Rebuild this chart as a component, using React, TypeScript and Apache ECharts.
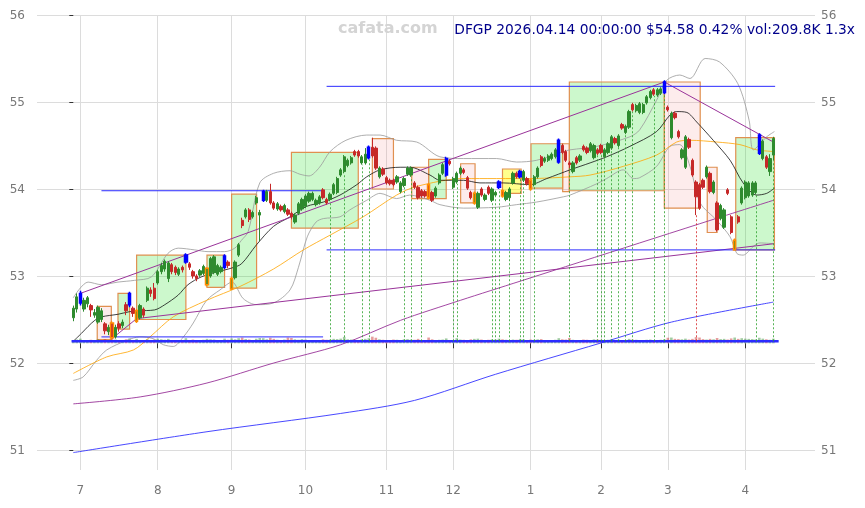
import React, { useEffect, useRef } from 'react';
import * as echarts from 'echarts';

const monthTicks = [2, 24, 45, 66, 89, 108, 130, 150, 169, 191];
const monthLabels = ['7', '8', '9', '10', '11', '12', '1', '2', '3', '4'];
const priceTicks = [51, 52, 53, 54, 55, 56];

// [open, close, low, high] per trading day
const candles: number[][] = [
  [52.52, 52.63, 52.48, 52.66], [52.62, 52.76, 52.58, 52.8], [52.69, 52.8, 52.66, 52.83], [52.62, 52.72, 52.59, 52.75], [52.68, 52.75, 52.64, 52.77],
  [52.66, 52.61, 52.53, 52.68], [52.55, 52.58, 52.52, 52.62], [52.47, 52.64, 52.45, 52.66], [52.5, 52.6, 52.47, 52.63], [52.45, 52.37, 52.33, 52.47],
  [52.36, 52.41, 52.32, 52.44], [52.46, 52.29, 52.27, 52.48], [52.3, 52.41, 52.28, 52.44], [52.45, 52.4, 52.36, 52.48], [52.43, 52.47, 52.4, 52.5],
  [52.67, 52.6, 52.55, 52.7], [52.67, 52.8, 52.64, 52.82], [52.63, 52.57, 52.53, 52.65], [52.48, 52.6, 52.46, 52.62], [52.52, 52.66, 52.5, 52.68],
  [52.62, 52.55, 52.52, 52.64], [52.72, 52.86, 52.7, 52.88], [52.84, 52.8, 52.76, 52.87], [52.86, 52.74, 52.72, 52.92], [52.92, 53.05, 52.9, 53.07],
  [53.05, 53.12, 53.02, 53.15], [53.08, 53.17, 53.05, 53.19], [52.97, 53.15, 52.93, 53.17], [53.13, 53.05, 53.02, 53.15], [53.1, 53.04, 53.01, 53.12],
  [53.02, 53.08, 53.0, 53.1], [53.1, 53.07, 53.04, 53.12], [53.16, 53.24, 53.14, 53.26], [53.14, 53.1, 53.07, 53.16], [53.05, 53.0, 52.97, 53.07],
  [53.0, 52.97, 52.94, 53.02], [53.01, 53.06, 52.99, 53.08], [53.03, 53.11, 53.01, 53.13], [52.9, 53.09, 52.88, 53.1], [53.0, 53.2, 52.98, 53.22],
  [53.04, 53.22, 53.02, 53.24], [53.02, 53.12, 53.0, 53.14], [53.05, 53.1, 53.03, 53.12], [53.1, 53.23, 53.08, 53.25], [53.16, 53.12, 53.09, 53.18],
  [52.85, 52.97, 52.84, 52.99], [52.98, 53.16, 52.96, 53.18], [53.24, 53.36, 53.22, 53.38], [53.64, 53.58, 53.55, 53.67], [53.68, 53.76, 53.66, 53.78],
  [53.76, 53.65, 53.62, 53.78], [53.68, 53.73, 53.66, 53.75], [53.84, 53.9, 53.82, 53.92], [53.7, 53.73, 53.4, 53.76], [53.87, 53.97, 53.85, 53.99],
  [53.87, 53.97, 53.85, 53.99], [53.97, 53.84, 53.82, 54.06], [53.84, 53.78, 53.76, 53.86], [53.77, 53.83, 53.75, 53.85], [53.8, 53.76, 53.74, 53.82],
  [53.74, 53.81, 53.72, 53.83], [53.76, 53.71, 53.69, 53.78], [53.72, 53.68, 53.65, 53.74], [53.62, 53.7, 53.6, 53.72], [53.72, 53.83, 53.7, 53.85],
  [53.77, 53.88, 53.75, 53.9], [53.8, 53.92, 53.78, 53.94], [53.86, 53.95, 53.84, 53.97], [53.88, 53.95, 53.86, 53.97], [53.82, 53.87, 53.8, 53.89],
  [53.84, 53.91, 53.82, 53.93], [53.99, 53.9, 53.88, 54.01], [53.88, 53.84, 53.82, 53.9], [53.88, 53.94, 53.86, 53.96], [53.95, 54.05, 53.93, 54.07],
  [53.96, 54.12, 53.94, 54.14], [54.16, 54.22, 54.14, 54.24], [54.2, 54.37, 54.18, 54.39], [54.27, 54.33, 54.25, 54.35], [54.3, 54.36, 54.28, 54.38],
  [54.43, 54.39, 54.37, 54.45], [54.43, 54.38, 54.36, 54.45], [54.3, 54.37, 54.28, 54.39], [54.3, 54.4, 54.28, 54.47], [54.36, 54.48, 54.34, 54.5],
  [54.48, 54.38, 54.36, 54.59], [54.47, 54.24, 54.22, 54.49], [54.14, 54.24, 54.12, 54.26], [54.23, 54.17, 54.15, 54.25], [54.13, 54.07, 54.05, 54.15],
  [54.1, 54.06, 54.04, 54.12], [54.1, 54.05, 54.03, 54.12], [54.08, 54.14, 54.06, 54.16], [53.97, 54.07, 53.95, 54.09], [54.04, 54.12, 54.02, 54.14],
  [54.17, 54.24, 54.15, 54.26], [54.16, 54.24, 54.14, 54.26], [54.07, 54.02, 54.0, 54.09], [54.02, 53.9, 53.88, 54.04], [53.98, 53.92, 53.9, 54.0],
  [53.97, 53.92, 53.9, 53.99], [54.05, 53.9, 53.88, 54.07], [53.96, 53.87, 53.85, 53.98], [53.92, 54.01, 53.9, 54.03], [54.07, 54.16, 54.05, 54.18],
  [54.18, 54.28, 54.16, 54.3], [54.16, 54.35, 54.14, 54.37], [54.32, 54.29, 54.27, 54.34], [54.02, 54.12, 54.0, 54.14], [54.08, 54.18, 54.06, 54.2],
  [54.18, 54.24, 54.16, 54.26], [54.22, 54.19, 54.17, 54.24], [54.13, 54.01, 53.99, 54.15], [53.96, 53.9, 53.88, 53.98], [53.84, 53.95, 53.82, 53.97],
  [53.79, 53.95, 53.77, 53.97], [54.0, 53.93, 53.91, 54.02], [53.88, 53.93, 53.86, 53.95], [54.02, 53.95, 53.93, 54.04], [53.87, 54.0, 53.85, 54.02],
  [53.93, 53.96, 53.91, 53.98], [54.02, 54.08, 54.0, 54.1], [53.98, 53.92, 53.9, 54.0], [53.88, 53.96, 53.86, 53.98], [53.9, 54.0, 53.86, 54.02],
  [54.07, 54.18, 54.05, 54.2], [54.18, 54.14, 54.12, 54.2], [54.14, 54.2, 54.12, 54.22], [54.1, 54.2, 54.08, 54.22], [54.12, 54.06, 54.04, 54.14],
  [54.1, 54.0, 53.98, 54.12], [54.05, 54.14, 54.03, 54.16], [54.14, 54.24, 54.12, 54.26], [54.37, 54.27, 54.25, 54.39], [54.32, 54.35, 54.3, 54.37],
  [54.33, 54.38, 54.31, 54.4], [54.35, 54.4, 54.33, 54.42], [54.37, 54.45, 54.35, 54.47], [54.31, 54.56, 54.29, 54.58], [54.5, 54.42, 54.4, 54.52],
  [54.43, 54.33, 54.31, 54.45], [54.3, 54.28, 54.24, 54.32], [54.2, 54.3, 54.18, 54.32], [54.36, 54.3, 54.28, 54.38], [54.33, 54.38, 54.31, 54.4],
  [54.49, 54.45, 54.43, 54.51], [54.47, 54.42, 54.4, 54.49], [54.44, 54.52, 54.42, 54.54], [54.36, 54.5, 54.34, 54.52], [54.45, 54.41, 54.39, 54.47],
  [54.5, 54.42, 54.4, 54.52], [54.37, 54.45, 54.35, 54.47], [54.42, 54.52, 54.4, 54.54], [54.47, 54.6, 54.45, 54.62], [54.58, 54.53, 54.51, 54.6],
  [54.5, 54.61, 54.48, 54.63], [54.74, 54.7, 54.68, 54.76], [54.65, 54.72, 54.63, 54.74], [54.71, 54.89, 54.69, 54.91], [54.97, 54.91, 54.89, 54.99],
  [54.9, 54.96, 54.88, 54.98], [54.88, 54.98, 54.86, 55.0], [54.88, 54.97, 54.86, 54.99], [54.99, 55.06, 54.97, 55.08], [55.05, 55.12, 55.03, 55.14],
  [55.14, 55.09, 55.07, 55.16], [55.08, 55.14, 55.06, 55.16], [55.1, 55.15, 55.08, 55.17], [55.11, 55.23, 55.09, 55.25], [54.94, 54.91, 54.89, 54.96],
  [54.59, 54.87, 54.57, 54.89], [54.87, 54.82, 54.8, 54.89], [54.66, 54.6, 54.58, 54.68], [54.36, 54.45, 54.34, 54.47], [54.25, 54.6, 54.23, 54.62],
  [54.57, 54.48, 54.46, 54.59], [54.33, 54.16, 54.14, 54.35], [54.08, 53.91, 53.7, 54.1], [54.05, 53.78, 53.76, 54.07], [54.1, 54.02, 54.0, 54.12],
  [54.14, 54.25, 54.12, 54.27], [54.18, 53.97, 53.95, 54.2], [53.96, 54.08, 53.94, 54.1], [53.84, 53.53, 53.51, 53.86], [53.66, 53.81, 53.64, 53.83],
  [53.56, 53.76, 53.54, 53.78], [53.99, 53.95, 53.93, 54.01], [53.68, 53.5, 53.48, 53.7], [53.3, 53.41, 53.29, 53.43], [53.68, 53.62, 53.6, 53.7],
  [53.84, 54.01, 53.82, 54.03], [53.9, 54.08, 53.88, 54.1], [53.92, 54.07, 53.9, 54.09], [53.93, 54.07, 53.91, 54.09], [53.96, 54.07, 53.94, 54.09],
  [54.41, 54.62, 54.39, 54.64], [54.35, 54.55, 54.33, 54.57], [54.37, 54.25, 54.23, 54.39], [54.2, 54.35, 54.15, 54.4], [54.39, 54.58, 54.33, 54.6],
];

const volumes = [
  150, 170, 210, 140, 130, 160, 120, 180, 140, 190, 150, 240, 170, 130, 120, 180, 220, 150, 200, 140,
  130, 190, 150, 170, 210, 180, 160, 200, 140, 150, 120, 130, 230, 150, 170, 140, 120, 160, 200, 180,
  170, 150, 130, 210, 160, 220, 180, 230, 260, 190, 170, 140, 200, 240, 230, 180, 250, 200, 160, 150,
  170, 260, 240, 180, 160, 190, 170, 150, 140, 130, 150, 180, 160, 170, 200, 190, 210, 290, 180, 170,
  160, 150, 180, 200, 230, 300, 250, 180, 160, 150, 140, 170, 160, 150, 180, 190, 170, 160, 200, 150,
  140, 260, 180, 150, 160, 170, 220, 150, 140, 230, 170, 160, 150, 180, 200, 210, 170, 150, 160, 180,
  170, 210, 180, 160, 150, 170, 160, 200, 180, 150, 170, 160, 180, 190, 150, 140, 150, 160, 230, 180,
  170, 240, 160, 150, 140, 170, 160, 150, 180, 170, 160, 150, 160, 170, 150, 160, 150, 140, 200, 170,
  160, 150, 140, 160, 170, 150, 140, 160, 180, 250, 260, 200, 190, 180, 210, 170, 200, 280, 260, 190,
  170, 200, 180, 240, 190, 200, 170, 220, 260, 200, 230, 210, 200, 190, 180, 250, 210, 180, 160, 210,
];

const blueDays = [2, 16, 32, 43, 54, 84, 106, 121, 127, 138, 168, 195];
const orangeDays = [11, 18, 38, 45, 101, 114, 122, 130, 188];
const greenSignalDays = [73, 77, 82, 84, 94, 96, 99, 108, 109, 119, 120, 121, 124, 127, 128, 131, 141, 149, 150, 151, 153, 155, 157, 159, 165, 168, 194, 199];
const redSignalDays = [177];

const ma20 = [
  [0, 52.25], [2.3, 52.34], [4.2, 52.42], [6.1, 52.49], [8, 52.53], [12.7, 52.56], [16, 52.59], [18.4, 52.6], [23.1, 52.61], [26, 52.67],
  [29.8, 52.78], [32.6, 52.9], [36.4, 52.99], [41.1, 53.05], [44.9, 53.09], [47.8, 53.14], [52.1, 53.36], [56.9, 53.57], [61.6, 53.68],
  [66.3, 53.8], [71.1, 53.85], [75.8, 53.93], [80.6, 54.05], [83.4, 54.14], [87.2, 54.22], [92.9, 54.25], [95.7, 54.25], [101.4, 54.16],
  [104.2, 54.1], [110.9, 54.1], [115.6, 54.07], [122.2, 54.07], [129.8, 54.05], [134.6, 54.12], [141.2, 54.22], [146.9, 54.3], [151.6, 54.37],
  [158.2, 54.49], [165.8, 54.66], [169.6, 54.85], [171.5, 54.89], [174.4, 54.88], [177.2, 54.77], [181.9, 54.56], [186.7, 54.33],
  [190.4, 54.07], [194.3, 53.93], [197.1, 53.95], [199.3, 54.01],
];
const ma50 = [
  [0, 51.88], [9.5, 52.07], [17.1, 52.15], [21.8, 52.3], [28.4, 52.53], [37.9, 52.72], [47.4, 52.88], [56.9, 53.08], [65.4, 53.3],
  [73, 53.47], [82.4, 53.68], [91.9, 53.93], [97.6, 54.03], [110.9, 54.12], [129.8, 54.12], [141.2, 54.14], [146.9, 54.16], [156.3, 54.26],
  [165.8, 54.39], [171.5, 54.54], [175.3, 54.56], [182.9, 54.54], [189.5, 54.51], [194.3, 54.45], [199.3, 54.43],
];
const bandUpper = [
  [0, 52.75], [4.2, 52.93], [8, 52.9], [12.7, 52.93], [17.4, 52.95], [22.2, 52.99], [26.9, 53.26], [29.8, 53.32], [34.5, 53.3], [38.3, 53.28],
  [43, 53.28], [45.9, 53.32], [47.8, 53.41], [49.7, 53.51], [53, 54.07], [56.9, 54.18], [61.6, 54.21], [64.4, 54.17], [67, 54.15], [70, 54.25],
  [73, 54.43], [77.5, 54.56], [83.4, 54.62], [87.2, 54.62], [91.9, 54.56], [97.6, 54.54], [104.2, 54.37], [110.9, 54.35], [120.3, 54.35],
  [126, 54.31], [131.7, 54.33], [139.3, 54.43], [141.2, 54.45], [148.8, 54.49], [158.2, 54.6], [161, 54.68], [165.8, 55.02], [168.7, 55.25],
  [172.4, 55.31], [175.3, 55.27], [179.6, 55.5], [183.7, 55.46], [188.9, 55.21], [192.1, 54.79], [193.3, 54.45], [197.1, 54.6], [199.3, 54.66],
];
const bandLower = [
  [0, 51.8], [2.8, 51.84], [6.6, 52.03], [9.5, 52.15], [15.2, 52.26], [18.9, 52.3], [22.7, 52.28], [25.6, 52.21], [28.4, 52.19], [31.3, 52.3],
  [34.1, 52.46], [37.9, 52.72], [41.7, 52.84], [45.1, 52.93], [48.3, 52.74], [52.1, 52.67], [56.9, 52.69], [61.6, 52.84], [64, 53.1],
  [66.5, 53.45], [69, 53.62], [71.1, 53.66], [75.8, 53.68], [78.6, 53.76], [83.4, 53.87], [87.2, 53.95], [91.9, 53.89], [95.6, 53.93],
  [101.4, 53.87], [104.2, 53.82], [110.9, 53.78], [120.3, 53.79], [126, 53.82], [131.7, 53.85], [139.3, 53.91], [141.2, 53.93], [148.8, 54.06],
  [151.6, 54.12], [156.3, 54.22], [159.2, 54.12], [161, 54.13], [165.8, 54.26], [169.6, 54.49], [172.4, 54.51], [175.3, 54.26], [178.2, 53.84],
  [182.9, 53.64], [186.7, 53.45], [188.6, 53.26], [190.4, 53.24], [193.3, 53.34], [195.2, 53.38], [199.3, 53.37],
];
const longPurple = [
  [0, 51.53], [19, 51.61], [38, 51.77], [57, 52.0], [76, 52.21], [93, 52.49], [110, 52.72], [127, 52.94], [144, 53.16], [161, 53.38], [178, 53.6], [199, 53.87],
];
const longBlue = [
  [0, 50.97], [38, 51.21], [76, 51.42], [97, 51.57], [120, 51.87], [150, 52.23], [170, 52.47], [199, 52.7],
];
const upperZigzag = [[2, 52.8], [168, 55.23], [199, 54.54]];
const lowerZigzag = [[11, 52.28], [18, 52.51], [199, 53.37]];
const levelLines = [
  { from: 8, to: 71, value: 53.98 },
  { from: 8, to: 71, value: 52.3 },
  { from: 72, to: 199.5, value: 55.18 },
  { from: 72, to: 199.5, value: 53.3 },
];
const baseLevel = 52.25;
// [startDay, endDay, top, bottom, kind]
const boxes: [number, number, number, number, string][] = [
  [6.8, 10.8, 52.65, 52.27, 'down'], [12.7, 16, 52.8, 52.39, 'up'], [18, 32, 53.24, 52.5, 'up'], [38, 43, 53.24, 52.87, 'up'],
  [45, 52.1, 53.94, 52.86, 'up'], [62, 81, 54.42, 53.55, 'up'], [85, 91, 54.58, 54.0, 'down'], [96.2, 101, 54.25, 53.89, 'down'],
  [101, 106, 54.34, 53.89, 'up'], [110.1, 114.2, 54.29, 53.84, 'down'], [122, 127.3, 54.23, 53.95, 'flat'], [130.1, 139.1, 54.52, 54.01, 'up'],
  [139.1, 141, 54.52, 53.97, 'down'], [141, 168, 55.23, 53.98, 'up'], [168, 178.2, 55.23, 53.78, 'down'], [180.2, 183, 54.25, 53.5, 'down'],
  [188.3, 199.3, 54.59, 53.3, 'up'],
];

const UP = '#2e8b2e';
const DOWN = '#c62828';
const BLUE = '#0000ff';
const ORANGE = '#ff8c00';

export default function App() {
  const ref = useRef<HTMLDivElement>(null);
  useEffect(() => {
    if (!ref.current) return;
    const chart = echarts.init(ref.current, undefined, { renderer: 'svg' });

    const candleData = candles.map((c, i) => {
      const item: any = { value: [i, c[0], c[1], c[2], c[3]] };
      if (blueDays.includes(i)) {
        item.itemStyle = { color: BLUE, color0: BLUE, borderColor: BLUE, borderColor0: BLUE, borderWidth: 1.5 };
      } else if (orangeDays.includes(i)) {
        item.itemStyle = { borderColor: ORANGE, borderColor0: ORANGE, borderWidth: 1.5 };
      }
      return item;
    });

    const volumeData = volumes.map((v, i) => ({
      value: [i, v],
      itemStyle: { color: candles[i][1] >= candles[i][0] ? 'rgba(46,139,46,0.45)' : 'rgba(198,40,40,0.45)' },
    }));

    const boxColor: Record<string, string> = {
      up: 'rgba(0,220,0,0.2)',
      down: 'rgba(240,128,128,0.15)',
      flat: 'rgba(255,255,0,0.45)',
    };

    const signalLines = [
      ...greenSignalDays.map((d) => [
        { coord: [d, baseLevel], lineStyle: { color: '#2ca02c' } },
        { coord: [d, candles[d][2]] },
      ]),
      ...redSignalDays.map((d) => [
        { coord: [d, baseLevel], lineStyle: { color: '#d62728' } },
        { coord: [d, candles[d][2]] },
      ]),
    ];

    const thinLine = (data: number[][], color: string, width = 0.8, smooth: any = 0.3) => ({
      type: 'line',
      data,
      showSymbol: false,
      symbol: 'none',
      smooth,
      silent: true,
      z: 4,
      lineStyle: { color, width },
    });

    const fontFamily = 'DejaVu Sans';

    chart.setOption({
      animation: false,
      textStyle: { fontFamily },
      grid: { left: 37, right: 50, top: 15, bottom: 38 },
      xAxis: {
        type: 'value',
        min: -10.32,
        max: 210.83,
        offset: 5,
        axisLine: { show: false },
        axisTick: { show: true, customValues: monthTicks, length: 5, lineStyle: { color: '#333' } },
        axisLabel: {
          customValues: monthTicks,
          formatter: (v: number) => monthLabels[monthTicks.indexOf(Math.round(v))] ?? '',
          color: '#777',
          fontSize: 12,
          margin: 9,
          fontFamily,
        },
        splitLine: { show: true, lineStyle: { color: '#dcdcdc', width: 1 } },
      },
      yAxis: [
        {
          type: 'value',
          min: 50.77,
          max: 56,
          position: 'left',
          axisLine: { show: false },
          axisTick: { show: true, customValues: priceTicks, length: 4, lineStyle: { color: '#333' } },
          axisLabel: { customValues: priceTicks, color: '#777', fontSize: 12, margin: 12, fontFamily },
          splitLine: { show: true, lineStyle: { color: '#dcdcdc', width: 1 } },
        },
        {
          type: 'value',
          min: 50.77,
          max: 56,
          position: 'right',
          axisLine: { show: false },
          axisTick: { show: false, customValues: priceTicks },
          axisLabel: { customValues: priceTicks, color: '#777', fontSize: 12, margin: 6, fontFamily },
          splitLine: { show: false },
        },
        {
          type: 'value',
          min: -5701,
          max: 14774,
          show: false,
          splitLine: { show: false },
        },
      ],
      series: [
        {
          type: 'line',
          data: [],
          silent: true,
          z: 1,
          markArea: {
            silent: true,
            data: boxes.map((b) => [
              { coord: [b[0], b[2]], itemStyle: { color: boxColor[b[4]], borderColor: '#e09050', borderWidth: 1.2 } },
              { coord: [b[1], b[3]] },
            ]),
          },
        },
        {
          type: 'bar',
          yAxisIndex: 2,
          data: volumeData,
          barWidth: 2.6,
          silent: true,
          z: 2,
        },
        {
          type: 'line',
          data: [],
          silent: true,
          z: 2,
          markLine: {
            silent: true,
            symbol: 'none',
            label: { show: false },
            lineStyle: { type: [2, 2], width: 1, opacity: 0.8 },
            data: signalLines,
          },
        },
        thinLine(bandUpper, '#999999'),
        thinLine(bandLower, '#999999'),
        thinLine(ma50, '#ffa500'),
        thinLine(ma20, '#111111'),
        thinLine(longPurple, '#993399', 0.9),
        thinLine(longBlue, '#3333ff', 0.9),
        thinLine(upperZigzag, '#993399', 1, false),
        thinLine(lowerZigzag, '#993399', 1, false),
        ...levelLines.map((l) => thinLine([[l.from, l.value], [l.to, l.value]], '#2b2bff', 1, false)),
        thinLine([[-0.5, baseLevel], [200.5, baseLevel]], '#2b2bff', 2.5, false),
        {
          type: 'candlestick',
          data: candleData,
          barWidth: 2.8,
          z: 5,
          silent: true,
          itemStyle: { color: UP, color0: DOWN, borderColor: UP, borderColor0: DOWN, borderWidth: 1 },
        },
      ],
      graphic: [
        {
          type: 'text',
          left: 338,
          top: 19,
          silent: true,
          style: { text: 'cafata.com', fill: '#d4d4d4', font: 'bold 16px "DejaVu Sans"' },
          z: 10,
        },
        {
          type: 'text',
          right: 10,
          top: 22,
          silent: true,
          style: { text: 'DFGP 2026.04.14 00:00:00 $54.58 0.42% vol:209.8K 1.3x', fill: '#00008b', font: '13.8px "DejaVu Sans"' },
          z: 10,
        },
      ],
    });
    return () => chart.dispose();
  }, []);
  return <div ref={ref} style={{ position: 'fixed', left: 0, top: 0, width: 865, height: 508 }} />;
}
